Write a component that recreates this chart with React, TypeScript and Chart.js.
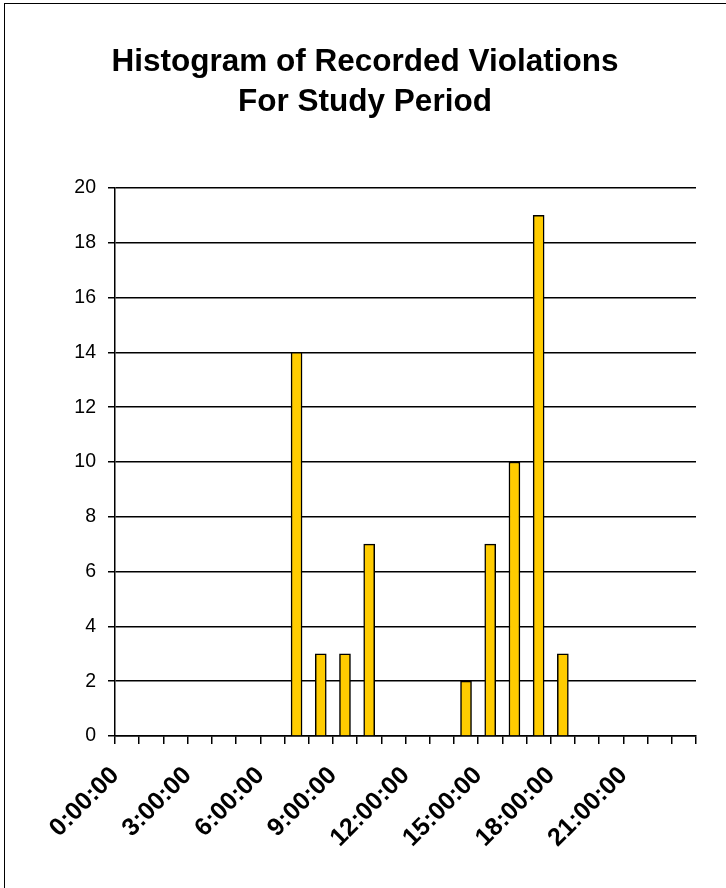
import React, { useEffect, useRef } from "react";
import { Chart, registerables } from "chart.js";

Chart.register(...registerables);

const titleLines = ["Histogram of Recorded Violations", "For Study Period"];

const hourLabels = [
  "0:00:00", "1:00:00", "2:00:00", "3:00:00", "4:00:00", "5:00:00",
  "6:00:00", "7:00:00", "8:00:00", "9:00:00", "10:00:00", "11:00:00",
  "12:00:00", "13:00:00", "14:00:00", "15:00:00", "16:00:00", "17:00:00",
  "18:00:00", "19:00:00", "20:00:00", "21:00:00", "22:00:00", "23:00:00",
];

const violations = [
  0, 0, 0, 0, 0, 0, 0, 14, 3, 3, 7, 0,
  0, 0, 2, 7, 10, 19, 3, 0, 0, 0, 0, 0,
];

const yMin = 0;
const yMax = 20;
const yStep = 2;
const labelEvery = 3;

const FONT = "'Liberation Sans', Arial, Helvetica, sans-serif";

export default function App() {
  const ref = useRef<HTMLCanvasElement | null>(null);

  useEffect(() => {
    document.body.style.margin = "0";
    const ctx = ref.current;
    if (!ctx) return;
    const chart = new Chart(ctx, {
      type: "bar",
      data: {
        labels: hourLabels,
        datasets: [
          {
            label: "Violations",
            data: violations,
            backgroundColor: "#FFCC00",
            borderColor: "#000000",
            borderWidth: 1.5,
            barThickness: 11,
          },
        ],
      },
      options: {
        animation: false,
        responsive: false,
        maintainAspectRatio: false,
        layout: { padding: { top: 42, right: 30, left: 34, bottom: 0 } },
        plugins: {
          legend: { display: false },
          tooltip: { enabled: false },
          title: {
            display: true,
            text: titleLines,
            color: "#000000",
            font: { family: FONT, size: 31.5, weight: "bold", lineHeight: 40 / 31.5 },
            padding: { top: 0, bottom: 66 },
          },
        },
        scales: {
          x: {
            type: "category",
            offset: true,
            afterFit: (scale: any) => {
              scale.height = 152;
            },
            grid: {
              offset: true,
              display: true,
              drawOnChartArea: false,
              drawTicks: true,
              tickLength: 8,
              color: "#000000",
              lineWidth: 1.5,
            },
            border: { display: true, color: "#000000", width: 1.5 },
            ticks: {
              autoSkip: false,
              maxRotation: 45,
              minRotation: 45,
              labelOffset: -12,
              padding: 17,
              color: "#000000",
              font: { family: FONT, size: 25, weight: "bold" },
              callback: function (this: any, value: any, index: number) {
                return index % labelEvery === 0 ? this.getLabelForValue(value) : "";
              },
            },
          },
          y: {
            min: yMin,
            max: yMax,
            afterFit: (scale: any) => {
              scale.width = 81;
            },
            grid: {
              display: true,
              drawOnChartArea: true,
              drawTicks: true,
              tickLength: 7,
              color: "#000000",
              lineWidth: 1.5,
            },
            border: { display: true, color: "#000000", width: 1.5 },
            ticks: {
              stepSize: yStep,
              padding: 12,
              color: "#000000",
              font: { family: FONT, size: 19.5 },
            },
          },
        },
      },
    });
    return () => chart.destroy();
  }, []);

  return (
    <div style={{ position: "fixed", left: 0, top: 0, width: 726, height: 888, background: "#fff", overflow: "hidden" }}>
      <div
        style={{
          position: "absolute",
          left: 4,
          top: 3,
          width: 740,
          height: 900,
          borderLeft: "1.5px solid #000",
          borderTop: "1.5px solid #000",
        }}
      />
      <canvas ref={ref} width={726} height={888} style={{ position: "absolute", left: 0, top: 0, width: 726, height: 888 }} />
    </div>
  );
}
